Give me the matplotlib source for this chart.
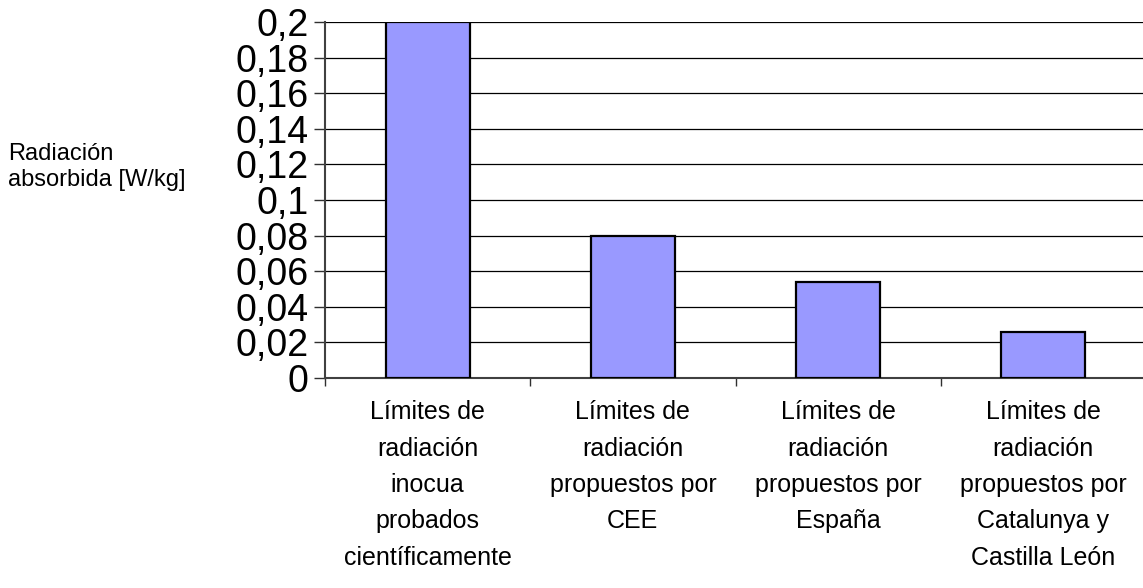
import matplotlib
matplotlib.use("Agg")
import matplotlib.pyplot as plt

categories = [
    "Límites de\nradiación\ninocua\nprobados\ncientíficamente",
    "Límites de\nradiación\npropuestos por\nCEE",
    "Límites de\nradiación\npropuestos por\nEspaña",
    "Límites de\nradiación\npropuestos por\nCatalunya y\nCastilla León",
]
values = [0.2, 0.08, 0.054, 0.026]
yticks = [0, 0.02, 0.04, 0.06, 0.08, 0.1, 0.12, 0.14, 0.16, 0.18, 0.2]
ytick_labels = ["0", "0,02", "0,04", "0,06", "0,08", "0,1", "0,12", "0,14", "0,16", "0,18", "0,2"]

plt.rcParams["font.family"] = ["Liberation Sans", "DejaVu Sans"]

fig = plt.figure(figsize=(11.43, 5.88), dpi=100)
ax = fig.add_axes([325 / 1143, 1 - 378 / 588, 821 / 1143, 356 / 588])

x = list(range(len(categories)))
ax.bar(x, values, width=0.41, color="#9999FF", edgecolor="black", linewidth=1.6, zorder=3)

ax.set_xlim(-0.5, len(categories) - 0.5)
ax.set_ylim(0, 0.2)
ax.set_yticks(yticks)
ax.set_yticklabels(ytick_labels, fontsize=27)
ax.grid(axis="y", color="black", linewidth=0.9, zorder=0)

# category ticks sit on the boundaries, labels centred under bars
ax.set_xticks([i + 0.5 for i in x[:-1]] + [-0.5])
ax.set_xticklabels([])
ax.set_xticks(x, minor=True)
ax.set_xticklabels(categories, minor=True, fontsize=18, linespacing=1.65)
ax.tick_params(axis="x", which="major", direction="out", length=6, width=1, color="#303030")
ax.tick_params(axis="x", which="minor", length=0, pad=16)
ax.tick_params(axis="y", direction="out", length=8, width=1, color="#303030", pad=4)

for side in ("top", "right"):
    ax.spines[side].set_visible(False)
ax.spines["left"].set_color("#404040")
ax.spines["left"].set_linewidth(1.5)
ax.spines["bottom"].set_color("#404040")
ax.spines["bottom"].set_linewidth(1.5)

fig.text(8 / 1143, 1 - 167 / 588, "Radiación\nabsorbida [W/kg]", fontsize=17,
         ha="left", va="center", linespacing=1.2)

fig.savefig("out.png", dpi=100)
